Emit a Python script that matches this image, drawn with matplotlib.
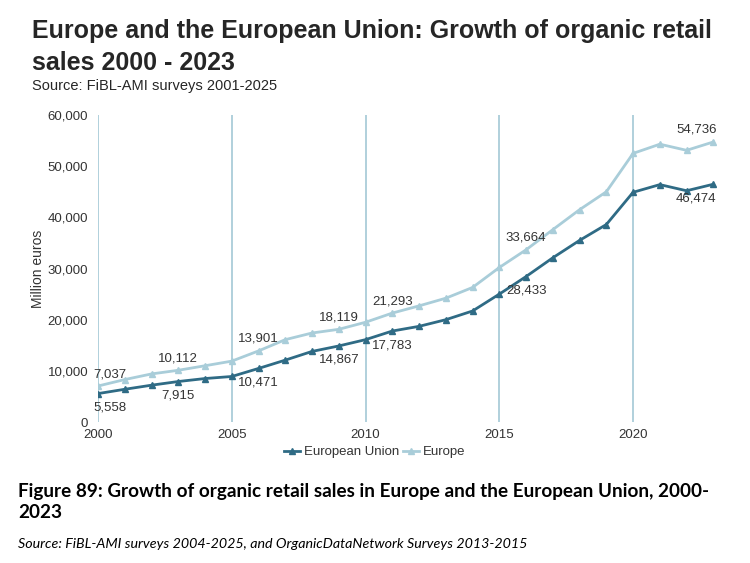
import matplotlib
matplotlib.use('Agg')
import matplotlib.pyplot as plt

plt.rcParams['font.family'] = ['Liberation Sans', 'DejaVu Sans']

years = list(range(2000, 2024))
eu = [5558, 6400, 7200, 7915, 8500, 8900, 10471, 12100, 13800, 14867,
      16100, 17783, 18700, 20000, 21700, 25000, 28433, 32100, 35500, 38600,
      44900, 46400, 45200, 46474]
europe = [7037, 8300, 9400, 10112, 11000, 11900, 13901, 16100, 17400, 18119,
          19500, 21293, 22700, 24200, 26300, 30200, 33664, 37600, 41500, 45000,
          52500, 54300, 53100, 54736]
label_years = [2000, 2003, 2006, 2009, 2011, 2016, 2023]

eu_color = '#2f6b85'
europe_color = '#a9cdd9'
grid_color = '#a3c8d6'

fig = plt.figure(figsize=(7.5, 5.63), dpi=100)
ax = fig.add_axes([0.1307, 0.2504, 0.824, 0.5453])

for x in [2000, 2005, 2010, 2015, 2020]:
    ax.axvline(x, color=grid_color, lw=1.2, zorder=0)

ax.plot(years, eu, color=eu_color, lw=2, marker='^', ms=4.5, label='European Union')
ax.plot(years, europe, color=europe_color, lw=2, marker='^', ms=4.5, label='Europe')

for yr in label_years:
    i = years.index(yr)
    dx = 0
    if yr == 2000:
        dx = 12
    if yr == 2023:
        dx = -17
    ax.annotate(f'{europe[i]:,}', (yr, europe[i]), xytext=(dx, 12),
                textcoords='offset pixels', ha='center', va='center',
                fontsize=9.5, color='#333333')
    ax.annotate(f'{eu[i]:,}', (yr, eu[i]), xytext=(dx, -14),
                textcoords='offset pixels', ha='center', va='center',
                fontsize=9.5, color='#333333')

ax.set_xlim(2000, 2023.1)
ax.set_ylim(0, 60000)
ax.set_yticks(range(0, 60001, 10000))
ax.set_yticklabels([f'{v:,}' for v in range(0, 60001, 10000)])
ax.set_xticks([2000, 2005, 2010, 2015, 2020])
ax.tick_params(length=0, labelsize=9.5, colors='#333333')
ax.tick_params(axis='y', pad=7)
ax.tick_params(axis='x', pad=5)
for s in ax.spines.values():
    s.set_visible(False)
ax.set_ylabel('Million euros', fontsize=10, color='#333333', labelpad=2)

fig.legend(loc='center', bbox_to_anchor=(0.5, 0.197), ncol=2, frameon=False,
           fontsize=9.5, handlelength=1.2, handletextpad=0.3, columnspacing=0.3,
           labelcolor='#333333')

fig.text(0.043, 1 - 31 / 563, 'Europe and the European Union: Growth of organic retail',
         fontsize=18, fontweight='bold', color='#262626', va='center')
fig.text(0.043, 1 - 63 / 563, 'sales 2000 - 2023',
         fontsize=18, fontweight='bold', color='#262626', va='center')
fig.text(0.043, 1 - 86 / 563, 'Source: FiBL-AMI surveys 2001-2025',
         fontsize=10.5, color='#262626', va='center')

fig.text(0.024, 1 - 492 / 563,
         'Figure 89: Growth of organic retail sales in Europe and the European Union, 2000-',
         fontsize=13.6, fontweight='bold', family='Lato', color='black', va='center')
fig.text(0.024, 1 - 512 / 563, '2023',
         fontsize=13.6, fontweight='bold', family='Lato', color='black', va='center')
fig.text(0.024, 1 - 544 / 563,
         'Source: FiBL-AMI surveys 2004-2025, and OrganicDataNetwork Surveys 2013-2015',
         fontsize=10.3, style='italic', family='Lato', color='black', va='center')

fig.savefig('out.png', dpi=100)
